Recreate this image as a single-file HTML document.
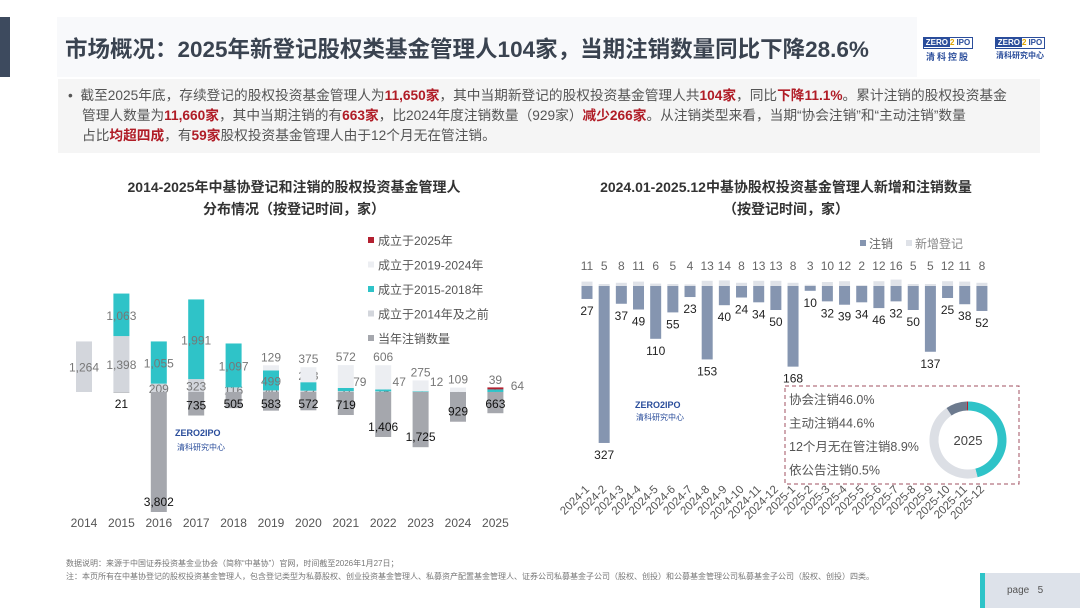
<!DOCTYPE html>
<html><head><meta charset="utf-8">
<style>
body{margin:0;width:1080px;height:608px;background:#fff;font-family:"Liberation Sans","Noto Sans CJK SC",sans-serif;position:relative;overflow:hidden}
.abs{position:absolute}
.t{font-size:13.7px;color:#555;line-height:20px}
.r{color:#b01c26;font-weight:bold}
</style></head><body>
<div class="abs" style="left:0;top:17px;width:10px;height:60px;background:#3d4a5e"></div>
<div class="abs" style="left:57px;top:17px;width:860px;height:60px;background:#f8f9fb"></div>
<div class="abs" style="left:65px;top:32px;font-size:22.5px;font-weight:bold;color:#3a4350;white-space:nowrap">市场概况：2025年新登记股权类基金管理人104家，当期注销数量同比下降28.6%</div>
<div class="abs" style="left:918px;top:32px;width:60px;text-align:center">
<div style="display:inline-block;border:1px solid #2a4d9b;font-size:8px;font-weight:bold;line-height:10px"><span style="background:#2a4d9b;color:#fff;padding:0 2px">ZERO</span><span style="color:#e0a400">2</span><span style="color:#2a4d9b;padding:0 2px">IPO</span></div>
<div style="font-size:9px;color:#2a4d9b;font-weight:bold;letter-spacing:2px">清科控股</div></div>
<div class="abs" style="left:990px;top:32px;width:60px;text-align:center">
<div style="display:inline-block;border:1px solid #2a4d9b;font-size:8px;font-weight:bold;line-height:10px"><span style="background:#2a4d9b;color:#fff;padding:0 2px">ZERO</span><span style="color:#e0a400">2</span><span style="color:#2a4d9b;padding:0 2px">IPO</span></div>
<div style="font-size:8px;color:#2a4d9b;font-weight:bold">清科研究中心</div></div>
<div class="abs" style="left:58px;top:79px;width:982px;height:74px;background:#f5f5f5"></div>
<div class="abs t" style="left:68px;top:86px;width:960px">
<div style="white-space:nowrap">•&nbsp;&nbsp;截至2025年底，存续登记的股权投资基金管理人为<span class="r">11,650家</span>，其中当期新登记的股权投资基金管理人共<span class="r">104家</span>，同比<span class="r">下降11.1%</span>。累计注销的股权投资基金</div>
<div style="padding-left:14px;white-space:nowrap">管理人数量为<span class="r">11,660家</span>，其中当期注销的有<span class="r">663家</span>，比2024年度注销数量（929家）<span class="r">减少266家</span>。从注销类型来看，当期“协会注销”和“主动注销”数量</div>
<div style="padding-left:14px;white-space:nowrap">占比<span class="r">均超四成</span>，有<span class="r">59家</span>股权投资基金管理人由于12个月无在管注销。</div></div>

<svg class="abs" style="left:0;top:0" width="1080" height="608" font-family="Liberation Sans, Noto Sans CJK SC, sans-serif">
<g id="left"></g>
<g id="right"></g>
</svg>

<div class="abs" style="left:66px;top:557px;font-size:8px;color:#777;line-height:13px;white-space:nowrap">数据说明：来源于中国证券投资基金业协会（简称“中基协”）官网，时间截至2026年1月27日；<br>注：本页所有在中基协登记的股权投资基金管理人，包含登记类型为私募股权、创业投资基金管理人、私募资产配置基金管理人、证券公司私募基金子公司（股权、创投）和公募基金管理公司私募基金子公司（股权、创投）四类。</div>
<div class="abs" style="left:980px;top:573px;width:100px;height:35px;background:#dde2ea;border-left:5px solid #2ec4c8;box-sizing:border-box;font-size:10px;color:#555;line-height:35px;padding-left:22px">page&nbsp;&nbsp;&nbsp;5</div>

<script>
const NS='http://www.w3.org/2000/svg';
function el(p,tag,a,txt){const e=document.createElementNS(NS,tag);for(const k in a)e.setAttribute(k,a[k]);if(txt!==undefined)e.textContent=txt;p.appendChild(e);return e;}
const fmt=v=>v.toLocaleString('en-US');

// ---- left chart data ----
const years=['2014','2015','2016','2017','2018','2019','2020','2021','2022','2023','2024','2025'];
const pre2014=[1264,1398,209,323,116,40,32,21,16,3,1,1];
const y1518=[0,1063,1055,1991,1097,499,213,79,47,12,0,64];
const y1924=[0,0,0,0,0,129,375,572,606,275,109,0];
const y2025=[0,0,0,0,0,0,0,0,0,0,0,39];
const cancels=[0,21,3802,735,505,583,572,719,1406,1725,929,663];

const L=document.getElementById('left');
el(L,'text',{x:294,y:192,'text-anchor':'middle','font-size':14,'font-weight':'bold',fill:'#333'},'2014-2025年中基协登记和注销的股权投资基金管理人');
el(L,'text',{x:294,y:214,'text-anchor':'middle','font-size':14,'font-weight':'bold',fill:'#333'},'分布情况（按登记时间，家）');
const lx=i=>84+i*37.4;
const base=392, up=0.04, down=0.032;
const yUp=v=>base-v*up, yDn=v=>base+v*down;
const cols={pre:'#d3d6dc',c:'#2fc3c8',l:'#eceef2',r:'#b32030',d:'#a5a7ad'};
years.forEach((yr,i)=>{
  const x=lx(i), w=16;
  let acc=0;
  [[pre2014,cols.pre,'#777'],[y1518,cols.c,'#777'],[y1924,cols.l,'#777'],[y2025,cols.r,'#777']].forEach(([arr,c,tc],k)=>{
    const v=arr[i]; if(!v)return;
    const y0=yUp(acc), y1=yUp(acc+v);
    const hh=Math.max(y0-y1,k==3?2:1);
    const b=el(L,'rect',{x:x-w/2,y:y0-hh,width:w,height:hh,fill:c});
    
    
    let ty=(y0+y1)/2+5;
    if(k==2||k==3) ty=y1-4;
    if(k==1 && y0-y1<14) ty=y1-2;
    let tx=x; if(k==1&&i==11){tx=x+22;ty=base-2;} if(k==1&&(i==8||i==9)){tx=x+16;ty=base-6;} if(k==1&&i==7){tx=x+14;ty=base-6;}
    el(L,'text',{x:tx,y:ty,'text-anchor':'middle','font-size':12,fill:tc},fmt(v));
    acc+=v;
  });
  const cv=cancels[i];
  if(cv){
    const h=Math.min(cv*down,120);
    const b=el(L,'rect',{x:x-w/2,y:base,width:w,height:h,fill:cols.d});
    
    
    el(L,'text',{x:x,y:Math.max(base+h-6,base+16),'text-anchor':'middle','font-size':12,fill:'#111'},fmt(cv));
  }
  el(L,'text',{x:x,y:527,'text-anchor':'middle','font-size':12,fill:'#555'},yr);
});
const legL=[['成立于2025年',cols.r],['成立于2019-2024年',cols.l],['成立于2015-2018年',cols.c],['成立于2014年及之前',cols.pre],['当年注销数量',cols.d]];
legL.forEach((d,i)=>{const y=242+i*24.5;
  el(L,'rect',{x:368,y:y-5,width:6,height:6,fill:d[1]});
  const t=el(L,'text',{x:378,y:y+3,'font-size':12,fill:'#555'},d[0]);
  });
el(L,'text',{x:175,y:436,'font-size':9,'font-weight':'bold',fill:'#2a4d9b'},'ZERO2IPO');
el(L,'text',{x:177,y:450,'font-size':8,fill:'#2a4d9b'},'清科研究中心');

// ---- right chart data ----
const months=['2024-1','2024-2','2024-3','2024-4','2024-5','2024-6','2024-7','2024-8','2024-9','2024-10','2024-11','2024-12','2025-1','2025-2','2025-3','2025-4','2025-5','2025-6','2025-7','2025-8','2025-9','2025-10','2025-11','2025-12'];
const newReg=[11,5,8,11,6,5,4,13,14,8,13,13,8,3,10,12,2,12,16,5,5,12,11,8];
const cancelM=[27,327,37,49,110,55,23,153,40,24,34,50,168,10,32,39,34,46,32,50,137,25,38,52];
const R=document.getElementById('right');
el(R,'text',{x:786,y:192,'text-anchor':'middle','font-size':14,'font-weight':'bold',fill:'#333'},'2024.01-2025.12中基协股权投资基金管理人新增和注销数量');
el(R,'text',{x:786,y:214,'text-anchor':'middle','font-size':14,'font-weight':'bold',fill:'#333'},'（按登记时间，家）');
const rx=i=>587+i*17.17, rb=286, rs=0.48, ns=0.4;
months.forEach((m,i)=>{
  const x=rx(i),w=11;
  const nh=newReg[i]*ns;
  const a=el(R,'rect',{x:x-w/2,y:rb-nh,width:w,height:nh,fill:'#dfe2e8'});
  
  el(R,'text',{x:x,y:270,'text-anchor':'middle','font-size':12,fill:'#666'},newReg[i]);
  const ch=cancelM[i]*rs;
  const b=el(R,'rect',{x:x-w/2,y:rb,width:w,height:ch,fill:'#8595b0'});
  
  el(R,'text',{x:x,y:rb+ch+16,'text-anchor':'middle','font-size':12,fill:'#222'},cancelM[i]);
  el(R,'text',{x:x+3,y:490,'text-anchor':'end','font-size':11.5,fill:'#555',transform:`rotate(-45 ${x+3} 490)`},m);
});
el(R,'rect',{x:860,y:240,width:6,height:6,fill:'#8595b0'});
el(R,'text',{x:869,y:248,'font-size':12,fill:'#666'},'注销');
el(R,'rect',{x:906,y:240,width:6,height:6,fill:'#dfe2e8'});
el(R,'text',{x:915,y:248,'font-size':12,fill:'#888'},'新增登记');
el(R,'text',{x:635,y:408,'font-size':9,'font-weight':'bold',fill:'#2a4d9b'},'ZERO2IPO');
el(R,'text',{x:636,y:420,'font-size':8,fill:'#2a4d9b'},'清科研究中心');
const box=el(R,'rect',{x:785,y:386,width:234,height:98,fill:'none',stroke:'#a05060','stroke-dasharray':'4 3','stroke-width':1});

const shareLabels=['协会注销','主动注销','12个月无在管注销','依公告注销'];
const shares=[46.0,44.6,8.9,0.5];
const shareColors=['#2fc3c8','#dcdfe5','#6c7a8e','#b32030'];
shares.forEach((s,i)=>{el(R,'text',{x:789,y:404+i*23.5,'font-size':12.5,fill:'#555'},shareLabels[i]+s.toFixed(1)+'%');});
const cx=968,cy=440,rr=34;let ang=-Math.PI/2;const tot=shares.reduce((a,b)=>a+b,0);
shares.forEach((s,i)=>{const a2=ang+s/tot*2*Math.PI;
  const p=`M${cx+rr*Math.cos(ang)} ${cy+rr*Math.sin(ang)} A${rr} ${rr} 0 ${a2-ang>Math.PI?1:0} 1 ${cx+rr*Math.cos(a2)} ${cy+rr*Math.sin(a2)}`;
  const e=el(R,'path',{d:p,fill:'none',stroke:shareColors[i],'stroke-width':9});
  ang=a2;});
el(R,'text',{x:cx,y:cy+5,'text-anchor':'middle','font-size':13,fill:'#444'},'2025');
</script>
</body></html>
